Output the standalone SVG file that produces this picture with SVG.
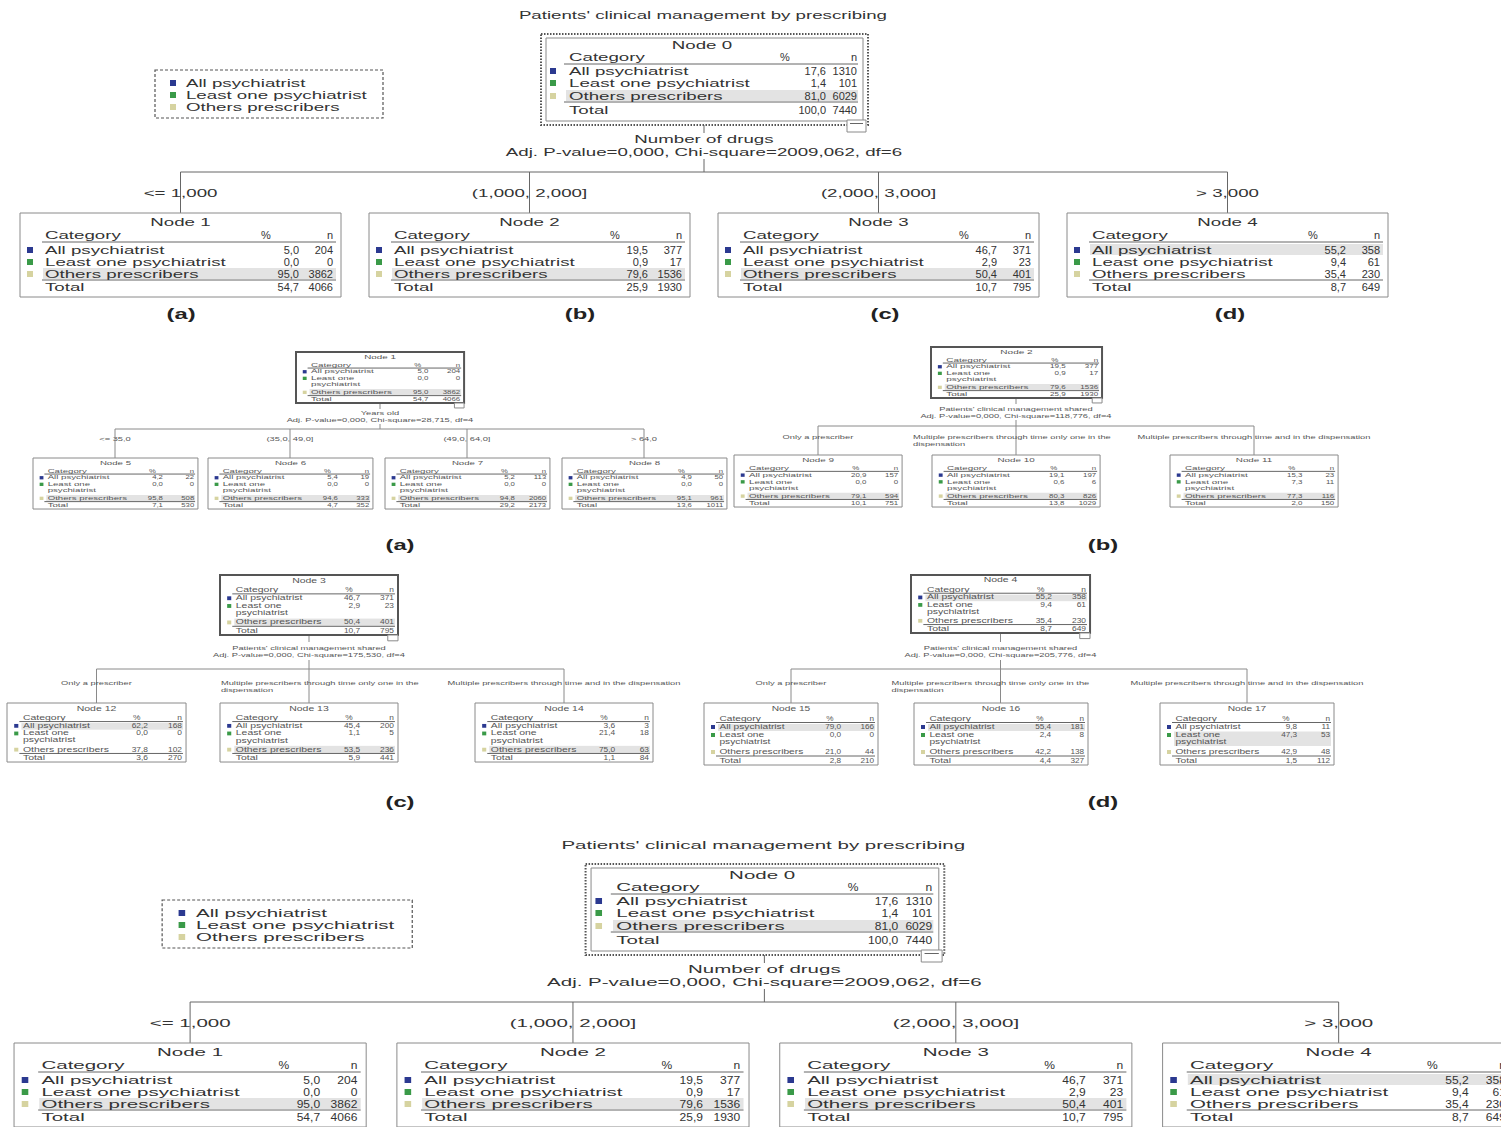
<svg xmlns="http://www.w3.org/2000/svg" width="1501" height="1127" viewBox="0 0 1501 1127">
<style>
.t{font-family:"Liberation Sans",Arial,sans-serif;fill:#333}
.f11{font-size:11px}
.fs{font-size:6.8px;fill:#555}
.fl{font-size:6.2px;fill:#555}
.fb{font-size:14px;font-weight:bold;fill:#222}
.m{text-anchor:middle}
.e{text-anchor:end}
.box{fill:#fff;stroke:#8a8a8a;stroke-width:1;vector-effect:non-scaling-stroke}
.boxp{fill:#fff;stroke:#555;stroke-width:2;vector-effect:non-scaling-stroke}
.dot{fill:none;stroke:#555;stroke-width:2;stroke-dasharray:1.5 1.5;vector-effect:non-scaling-stroke}
.dash{fill:#fff;stroke:#555;stroke-width:1.2;stroke-dasharray:3 2;vector-effect:non-scaling-stroke}
.ln{stroke:#666;stroke-width:1;fill:none;vector-effect:non-scaling-stroke}
.lm{stroke:#8a8a8a;stroke-width:1;fill:none;vector-effect:non-scaling-stroke}
.hl{fill:#e3e3e3}
.c1{fill:#2b3990}.c2{fill:#3a9a48}.c3{fill:#d6d3a0}
</style>
<rect width="1501" height="1127" fill="#fff"/>

<!-- ================= TOP TREE ================= -->
<g id="top-tree">
<g id="top-title"><text class="t f11 m" transform="scale(1.7,1)" x="413.5" y="19">Patients' clinical management by prescribing</text></g>
<g id="top-legend">
<rect class="dash" x="155" y="70" width="228" height="48"/>
<rect class="c1" x="170" y="80" width="6" height="6"/>
<rect class="c2" x="170" y="92" width="6" height="6"/>
<rect class="c3" x="170" y="104" width="6" height="6"/>
<g class="t f11" transform="scale(1.7,1)"><text x="109.4" y="87">All psychiatrist</text><text x="109.4" y="99">Least one psychiatrist</text><text x="109.4" y="111">Others prescribers</text></g>
</g>
<g id="top-connectors">
<path class="ln" d="M704 125V133M704 159V172M180.5 172H1227.5M180.5 172V213M529.5 172V213M878.5 172V213M1227.5 172V213"/>
<g class="t f11" transform="scale(1.7,1)">
<text class="m" x="414.1" y="143">Number of drugs</text>
<text class="m" x="414.1" y="156">Adj. P-value=0,000, Chi-square=2009,062, df=6</text>
<text class="m" x="106.2" y="197">&lt;= 1,000</text>
<text class="m" x="311.5" y="197">(1,000, 2,000]</text>
<text class="m" x="516.8" y="197">(2,000, 3,000]</text>
<text class="m" x="722.1" y="197">&gt; 3,000</text>
</g>
</g>
<g id="top-node0">
<rect class="dot" x="541" y="34" width="327" height="91"/>
<rect class="box" x="546" y="38" width="317" height="83"/>
<rect class="hl" x="566" y="90" width="292" height="11"/>
<line class="ln" x1="564" y1="64" x2="858" y2="64"/>
<line class="ln" x1="564" y1="102" x2="858" y2="102"/>
<rect class="c1" x="550" y="68" width="6" height="6"/>
<rect class="c2" x="550" y="80" width="6" height="6"/>
<rect class="c3" x="550" y="93" width="6" height="6"/>
<rect class="box" x="847" y="120" width="19" height="12"/>
<line class="ln" x1="850" y1="123.5" x2="863" y2="123.5"/>
<g class="t f11" transform="translate(543,0) scale(1.7,1)">
<text class="m" x="93.5" y="49">Node 0</text>
<text x="15.3" y="61">Category</text>
<text x="15.3" y="75">All psychiatrist</text>
<text x="15.3" y="87">Least one psychiatrist</text>
<text x="15.3" y="100">Others prescribers</text>
<text x="15.3" y="114">Total</text>
</g>
<g class="t f11">
<text class="m" x="785" y="61">%</text><text class="e" x="857" y="61">n</text>
<text class="e" x="826" y="75">17,6</text><text class="e" x="857" y="75">1310</text>
<text class="e" x="826" y="87">1,4</text><text class="e" x="857" y="87">101</text>
<text class="e" x="826" y="100">81,0</text><text class="e" x="857" y="100">6029</text>
<text class="e" x="826" y="114">100,0</text><text class="e" x="857" y="114">7440</text>
</g>
</g>
<g id="top-node1">
<rect class="box" x="20" y="213" width="321" height="84"/>
<rect class="hl" x="43" y="268" width="293" height="11"/>
<line class="ln" x1="42" y1="242" x2="336" y2="242"/>
<line class="ln" x1="42" y1="280" x2="336" y2="280"/>
<rect class="c1" x="27" y="247" width="6" height="6"/>
<rect class="c2" x="27" y="259" width="6" height="6"/>
<rect class="c3" x="27" y="271" width="6" height="6"/>
<g class="t f11" transform="translate(20,0) scale(1.7,1)">
<text class="m" x="94.4" y="226">Node 1</text>
<text x="14.7" y="239">Category</text>
<text x="14.7" y="254">All psychiatrist</text>
<text x="14.7" y="266">Least one psychiatrist</text>
<text x="14.7" y="278">Others prescribers</text>
<text x="14.7" y="291">Total</text>
</g>
<g class="t f11">
<text class="m" x="266" y="239">%</text><text class="e" x="333" y="239">n</text>
<text class="e" x="299" y="254">5,0</text><text class="e" x="333" y="254">204</text>
<text class="e" x="299" y="266">0,0</text><text class="e" x="333" y="266">0</text>
<text class="e" x="299" y="278">95,0</text><text class="e" x="333" y="278">3862</text>
<text class="e" x="299" y="291">54,7</text><text class="e" x="333" y="291">4066</text>
</g>
</g>
<g id="top-node2">
<rect class="box" x="369" y="213" width="321" height="84"/>
<rect class="hl" x="392" y="268" width="293" height="11"/>
<line class="ln" x1="391" y1="242" x2="685" y2="242"/>
<line class="ln" x1="391" y1="280" x2="685" y2="280"/>
<rect class="c1" x="376" y="247" width="6" height="6"/>
<rect class="c2" x="376" y="259" width="6" height="6"/>
<rect class="c3" x="376" y="271" width="6" height="6"/>
<g class="t f11" transform="translate(369,0) scale(1.7,1)">
<text class="m" x="94.4" y="226">Node 2</text>
<text x="14.7" y="239">Category</text>
<text x="14.7" y="254">All psychiatrist</text>
<text x="14.7" y="266">Least one psychiatrist</text>
<text x="14.7" y="278">Others prescribers</text>
<text x="14.7" y="291">Total</text>
</g>
<g class="t f11">
<text class="m" x="615" y="239">%</text><text class="e" x="682" y="239">n</text>
<text class="e" x="648" y="254">19,5</text><text class="e" x="682" y="254">377</text>
<text class="e" x="648" y="266">0,9</text><text class="e" x="682" y="266">17</text>
<text class="e" x="648" y="278">79,6</text><text class="e" x="682" y="278">1536</text>
<text class="e" x="648" y="291">25,9</text><text class="e" x="682" y="291">1930</text>
</g>
</g>
<g id="top-node3">
<rect class="box" x="718" y="213" width="321" height="84"/>
<rect class="hl" x="741" y="268" width="293" height="11"/>
<line class="ln" x1="740" y1="242" x2="1034" y2="242"/>
<line class="ln" x1="740" y1="280" x2="1034" y2="280"/>
<rect class="c1" x="725" y="247" width="6" height="6"/>
<rect class="c2" x="725" y="259" width="6" height="6"/>
<rect class="c3" x="725" y="271" width="6" height="6"/>
<g class="t f11" transform="translate(718,0) scale(1.7,1)">
<text class="m" x="94.4" y="226">Node 3</text>
<text x="14.7" y="239">Category</text>
<text x="14.7" y="254">All psychiatrist</text>
<text x="14.7" y="266">Least one psychiatrist</text>
<text x="14.7" y="278">Others prescribers</text>
<text x="14.7" y="291">Total</text>
</g>
<g class="t f11">
<text class="m" x="964" y="239">%</text><text class="e" x="1031" y="239">n</text>
<text class="e" x="997" y="254">46,7</text><text class="e" x="1031" y="254">371</text>
<text class="e" x="997" y="266">2,9</text><text class="e" x="1031" y="266">23</text>
<text class="e" x="997" y="278">50,4</text><text class="e" x="1031" y="278">401</text>
<text class="e" x="997" y="291">10,7</text><text class="e" x="1031" y="291">795</text>
</g>
</g>
<g id="top-node4">
<rect class="box" x="1067" y="213" width="321" height="84"/>
<rect class="hl" x="1090" y="244" width="293" height="11"/>
<line class="ln" x1="1089" y1="242" x2="1383" y2="242"/>
<line class="ln" x1="1089" y1="280" x2="1383" y2="280"/>
<rect class="c1" x="1074" y="247" width="6" height="6"/>
<rect class="c2" x="1074" y="259" width="6" height="6"/>
<rect class="c3" x="1074" y="271" width="6" height="6"/>
<g class="t f11" transform="translate(1067,0) scale(1.7,1)">
<text class="m" x="94.4" y="226">Node 4</text>
<text x="14.7" y="239">Category</text>
<text x="14.7" y="254">All psychiatrist</text>
<text x="14.7" y="266">Least one psychiatrist</text>
<text x="14.7" y="278">Others prescribers</text>
<text x="14.7" y="291">Total</text>
</g>
<g class="t f11">
<text class="m" x="1313" y="239">%</text><text class="e" x="1380" y="239">n</text>
<text class="e" x="1346" y="254">55,2</text><text class="e" x="1380" y="254">358</text>
<text class="e" x="1346" y="266">9,4</text><text class="e" x="1380" y="266">61</text>
<text class="e" x="1346" y="278">35,4</text><text class="e" x="1380" y="278">230</text>
<text class="e" x="1346" y="291">8,7</text><text class="e" x="1380" y="291">649</text>
</g>
</g>
</g>
<g id="panel-labels" class="t fb" transform="scale(1.7,1)">
<text class="m" x="106.5" y="319">(a)</text><text class="m" x="341.2" y="319">(b)</text><text class="m" x="520.6" y="319">(c)</text><text class="m" x="723.5" y="319">(d)</text>
<text class="m" x="235.3" y="550">(a)</text><text class="m" x="648.8" y="550">(b)</text>
<text class="m" x="235.3" y="807">(c)</text><text class="m" x="648.8" y="807">(d)</text>
</g>

<!-- ================= MIDDLE (a) ================= -->
<g id="a-connectors">
<path class="lm" d="M380 403V409M380 424V429M115 429H644M115 429V458M290 429V458M467 429V458M644 429V458"/>
<g class="t fl" transform="scale(1.5,1)">
<text class="m" x="253.3" y="415">Years old</text>
<text class="m" x="253.3" y="422.5">Adj. P-value=0,000, Chi-square=28,715, df=4</text>
<text class="m" x="76.7" y="441.5">&lt;= 35,0</text>
<text class="m" x="193.3" y="441.5">(35,0, 49,0]</text>
<text class="m" x="311.3" y="441.5">(49,0, 64,0]</text>
<text class="m" x="429.3" y="441.5">&gt; 64,0</text>
</g>
</g>
<g id="a-node1" transform="translate(296,352) scale(0.966,0.823)">
<rect class="boxp" width="174" height="62"/>
<rect class="hl" x="14" y="45" width="157" height="7.5"/>
<line class="ln" x1="12" y1="19.5" x2="171" y2="19.5"/><line class="ln" x1="12" y1="53" x2="171" y2="53"/>
<rect class="c1" x="7" y="22" width="4" height="4"/><rect class="c2" x="7" y="30" width="4" height="4"/><rect class="c3" x="7" y="47" width="4" height="4"/>
<rect class="box" x="164" y="62" width="10" height="6"/>
<g class="t fs" transform="scale(1.5,1)"><text class="m" x="58" y="8">Node 1</text><text x="10.3" y="18">Category</text><text x="10.3" y="26">All psychiatrist</text><text x="10.3" y="34">Least one</text><text x="10.3" y="41.5">psychiatrist</text><text x="10.3" y="51">Others prescribers</text><text x="10.3" y="60">Total</text></g>
<g class="t fs" transform="scale(1.2,1)"><text class="m" x="105" y="18">%</text><text class="e" x="141.7" y="18">n</text>
<text class="e" x="114.2" y="26">5,0</text><text class="e" x="141.7" y="26">204</text>
<text class="e" x="114.2" y="34">0,0</text><text class="e" x="141.7" y="34">0</text>
<text class="e" x="114.2" y="51">95,0</text><text class="e" x="141.7" y="51">3862</text>
<text class="e" x="114.2" y="60">54,7</text><text class="e" x="141.7" y="60">4066</text></g>
</g>
<g id="a-node5" transform="translate(33,458) scale(0.948,0.823)">
<rect class="box" width="174" height="62"/>
<rect class="hl" x="14" y="45" width="157" height="7.5"/>
<line class="ln" x1="12" y1="19.5" x2="171" y2="19.5"/><line class="ln" x1="12" y1="53" x2="171" y2="53"/>
<rect class="c1" x="7" y="22" width="4" height="4"/><rect class="c2" x="7" y="30" width="4" height="4"/><rect class="c3" x="7" y="47" width="4" height="4"/>
<g class="t fs" transform="scale(1.5,1)"><text class="m" x="58" y="8">Node 5</text><text x="10.3" y="18">Category</text><text x="10.3" y="26">All psychiatrist</text><text x="10.3" y="34">Least one</text><text x="10.3" y="41.5">psychiatrist</text><text x="10.3" y="51">Others prescribers</text><text x="10.3" y="60">Total</text></g>
<g class="t fs" transform="scale(1.2,1)"><text class="m" x="105" y="18">%</text><text class="e" x="141.7" y="18">n</text>
<text class="e" x="114.2" y="26">4,2</text><text class="e" x="141.7" y="26">22</text>
<text class="e" x="114.2" y="34">0,0</text><text class="e" x="141.7" y="34">0</text>
<text class="e" x="114.2" y="51">95,8</text><text class="e" x="141.7" y="51">508</text>
<text class="e" x="114.2" y="60">7,1</text><text class="e" x="141.7" y="60">530</text></g>
</g>
<g id="a-node6" transform="translate(208,458) scale(0.948,0.823)">
<rect class="box" width="174" height="62"/>
<rect class="hl" x="14" y="45" width="157" height="7.5"/>
<line class="ln" x1="12" y1="19.5" x2="171" y2="19.5"/><line class="ln" x1="12" y1="53" x2="171" y2="53"/>
<rect class="c1" x="7" y="22" width="4" height="4"/><rect class="c2" x="7" y="30" width="4" height="4"/><rect class="c3" x="7" y="47" width="4" height="4"/>
<g class="t fs" transform="scale(1.5,1)"><text class="m" x="58" y="8">Node 6</text><text x="10.3" y="18">Category</text><text x="10.3" y="26">All psychiatrist</text><text x="10.3" y="34">Least one</text><text x="10.3" y="41.5">psychiatrist</text><text x="10.3" y="51">Others prescribers</text><text x="10.3" y="60">Total</text></g>
<g class="t fs" transform="scale(1.2,1)"><text class="m" x="105" y="18">%</text><text class="e" x="141.7" y="18">n</text>
<text class="e" x="114.2" y="26">5,4</text><text class="e" x="141.7" y="26">19</text>
<text class="e" x="114.2" y="34">0,0</text><text class="e" x="141.7" y="34">0</text>
<text class="e" x="114.2" y="51">94,6</text><text class="e" x="141.7" y="51">333</text>
<text class="e" x="114.2" y="60">4,7</text><text class="e" x="141.7" y="60">352</text></g>
</g>
<g id="a-node7" transform="translate(385,458) scale(0.948,0.823)">
<rect class="box" width="174" height="62"/>
<rect class="hl" x="14" y="45" width="157" height="7.5"/>
<line class="ln" x1="12" y1="19.5" x2="171" y2="19.5"/><line class="ln" x1="12" y1="53" x2="171" y2="53"/>
<rect class="c1" x="7" y="22" width="4" height="4"/><rect class="c2" x="7" y="30" width="4" height="4"/><rect class="c3" x="7" y="47" width="4" height="4"/>
<g class="t fs" transform="scale(1.5,1)"><text class="m" x="58" y="8">Node 7</text><text x="10.3" y="18">Category</text><text x="10.3" y="26">All psychiatrist</text><text x="10.3" y="34">Least one</text><text x="10.3" y="41.5">psychiatrist</text><text x="10.3" y="51">Others prescribers</text><text x="10.3" y="60">Total</text></g>
<g class="t fs" transform="scale(1.2,1)"><text class="m" x="105" y="18">%</text><text class="e" x="141.7" y="18">n</text>
<text class="e" x="114.2" y="26">5,2</text><text class="e" x="141.7" y="26">113</text>
<text class="e" x="114.2" y="34">0,0</text><text class="e" x="141.7" y="34">0</text>
<text class="e" x="114.2" y="51">94,8</text><text class="e" x="141.7" y="51">2060</text>
<text class="e" x="114.2" y="60">29,2</text><text class="e" x="141.7" y="60">2173</text></g>
</g>
<g id="a-node8" transform="translate(562,458) scale(0.948,0.823)">
<rect class="box" width="174" height="62"/>
<rect class="hl" x="14" y="45" width="157" height="7.5"/>
<line class="ln" x1="12" y1="19.5" x2="171" y2="19.5"/><line class="ln" x1="12" y1="53" x2="171" y2="53"/>
<rect class="c1" x="7" y="22" width="4" height="4"/><rect class="c2" x="7" y="30" width="4" height="4"/><rect class="c3" x="7" y="47" width="4" height="4"/>
<g class="t fs" transform="scale(1.5,1)"><text class="m" x="58" y="8">Node 8</text><text x="10.3" y="18">Category</text><text x="10.3" y="26">All psychiatrist</text><text x="10.3" y="34">Least one</text><text x="10.3" y="41.5">psychiatrist</text><text x="10.3" y="51">Others prescribers</text><text x="10.3" y="60">Total</text></g>
<g class="t fs" transform="scale(1.2,1)"><text class="m" x="105" y="18">%</text><text class="e" x="141.7" y="18">n</text>
<text class="e" x="114.2" y="26">4,9</text><text class="e" x="141.7" y="26">50</text>
<text class="e" x="114.2" y="34">0,0</text><text class="e" x="141.7" y="34">0</text>
<text class="e" x="114.2" y="51">95,1</text><text class="e" x="141.7" y="51">961</text>
<text class="e" x="114.2" y="60">13,6</text><text class="e" x="141.7" y="60">1011</text></g>
</g>

<!-- ================= MIDDLE (b) ================= -->
<g id="b-connectors">
<path class="lm" d="M1016 398V404M1016 420V426M818 426H1254M818 426V455M1016 426V455M1254 426V455"/>
<g class="t fl" transform="scale(1.5,1)">
<text class="m" x="677.3" y="411">Patients' clinical management shared</text>
<text class="m" x="677.3" y="418.5">Adj. P-value=0,000, Chi-square=118,776, df=4</text>
<text class="m" x="545.3" y="439">Only a prescriber</text>
<text x="608.7" y="439">Multiple prescribers through time only one in the</text>
<text x="608.7" y="446">dispensation</text>
<text class="m" x="836" y="439">Multiple prescribers through time and in the dispensation</text>
</g>
</g>
<g id="b-node2" transform="translate(931,347) scale(0.983,0.823)">
<rect class="boxp" width="174" height="62"/>
<rect class="hl" x="14" y="45" width="157" height="7.5"/>
<line class="ln" x1="12" y1="19.5" x2="171" y2="19.5"/><line class="ln" x1="12" y1="53" x2="171" y2="53"/>
<rect class="c1" x="7" y="22" width="4" height="4"/><rect class="c2" x="7" y="30" width="4" height="4"/><rect class="c3" x="7" y="47" width="4" height="4"/>
<rect class="box" x="164" y="62" width="10" height="6"/>
<g class="t fs" transform="scale(1.5,1)"><text class="m" x="58" y="8">Node 2</text><text x="10.3" y="18">Category</text><text x="10.3" y="26">All psychiatrist</text><text x="10.3" y="34">Least one</text><text x="10.3" y="41.5">psychiatrist</text><text x="10.3" y="51">Others prescribers</text><text x="10.3" y="60">Total</text></g>
<g class="t fs" transform="scale(1.2,1)"><text class="m" x="105" y="18">%</text><text class="e" x="141.7" y="18">n</text>
<text class="e" x="114.2" y="26">19,5</text><text class="e" x="141.7" y="26">377</text>
<text class="e" x="114.2" y="34">0,9</text><text class="e" x="141.7" y="34">17</text>
<text class="e" x="114.2" y="51">79,6</text><text class="e" x="141.7" y="51">1536</text>
<text class="e" x="114.2" y="60">25,9</text><text class="e" x="141.7" y="60">1930</text></g>
</g>
<g id="b-node9" transform="translate(734,455) scale(0.966,0.839)">
<rect class="box" width="174" height="62"/>
<rect class="hl" x="14" y="45" width="157" height="7.5"/>
<line class="ln" x1="12" y1="19.5" x2="171" y2="19.5"/><line class="ln" x1="12" y1="53" x2="171" y2="53"/>
<rect class="c1" x="7" y="22" width="4" height="4"/><rect class="c2" x="7" y="30" width="4" height="4"/><rect class="c3" x="7" y="47" width="4" height="4"/>
<g class="t fs" transform="scale(1.5,1)"><text class="m" x="58" y="8">Node 9</text><text x="10.3" y="18">Category</text><text x="10.3" y="26">All psychiatrist</text><text x="10.3" y="34">Least one</text><text x="10.3" y="41.5">psychiatrist</text><text x="10.3" y="51">Others prescribers</text><text x="10.3" y="60">Total</text></g>
<g class="t fs" transform="scale(1.2,1)"><text class="m" x="105" y="18">%</text><text class="e" x="141.7" y="18">n</text>
<text class="e" x="114.2" y="26">20,9</text><text class="e" x="141.7" y="26">157</text>
<text class="e" x="114.2" y="34">0,0</text><text class="e" x="141.7" y="34">0</text>
<text class="e" x="114.2" y="51">79,1</text><text class="e" x="141.7" y="51">594</text>
<text class="e" x="114.2" y="60">10,1</text><text class="e" x="141.7" y="60">751</text></g>
</g>
<g id="b-node10" transform="translate(932,455) scale(0.966,0.839)">
<rect class="box" width="174" height="62"/>
<rect class="hl" x="14" y="45" width="157" height="7.5"/>
<line class="ln" x1="12" y1="19.5" x2="171" y2="19.5"/><line class="ln" x1="12" y1="53" x2="171" y2="53"/>
<rect class="c1" x="7" y="22" width="4" height="4"/><rect class="c2" x="7" y="30" width="4" height="4"/><rect class="c3" x="7" y="47" width="4" height="4"/>
<g class="t fs" transform="scale(1.5,1)"><text class="m" x="58" y="8">Node 10</text><text x="10.3" y="18">Category</text><text x="10.3" y="26">All psychiatrist</text><text x="10.3" y="34">Least one</text><text x="10.3" y="41.5">psychiatrist</text><text x="10.3" y="51">Others prescribers</text><text x="10.3" y="60">Total</text></g>
<g class="t fs" transform="scale(1.2,1)"><text class="m" x="105" y="18">%</text><text class="e" x="141.7" y="18">n</text>
<text class="e" x="114.2" y="26">19,1</text><text class="e" x="141.7" y="26">197</text>
<text class="e" x="114.2" y="34">0,6</text><text class="e" x="141.7" y="34">6</text>
<text class="e" x="114.2" y="51">80,3</text><text class="e" x="141.7" y="51">826</text>
<text class="e" x="114.2" y="60">13,8</text><text class="e" x="141.7" y="60">1029</text></g>
</g>
<g id="b-node11" transform="translate(1170,455) scale(0.966,0.839)">
<rect class="box" width="174" height="62"/>
<rect class="hl" x="14" y="45" width="157" height="7.5"/>
<line class="ln" x1="12" y1="19.5" x2="171" y2="19.5"/><line class="ln" x1="12" y1="53" x2="171" y2="53"/>
<rect class="c1" x="7" y="22" width="4" height="4"/><rect class="c2" x="7" y="30" width="4" height="4"/><rect class="c3" x="7" y="47" width="4" height="4"/>
<g class="t fs" transform="scale(1.5,1)"><text class="m" x="58" y="8">Node 11</text><text x="10.3" y="18">Category</text><text x="10.3" y="26">All psychiatrist</text><text x="10.3" y="34">Least one</text><text x="10.3" y="41.5">psychiatrist</text><text x="10.3" y="51">Others prescribers</text><text x="10.3" y="60">Total</text></g>
<g class="t fs" transform="scale(1.2,1)"><text class="m" x="105" y="18">%</text><text class="e" x="141.7" y="18">n</text>
<text class="e" x="114.2" y="26">15,3</text><text class="e" x="141.7" y="26">23</text>
<text class="e" x="114.2" y="34">7,3</text><text class="e" x="141.7" y="34">11</text>
<text class="e" x="114.2" y="51">77,3</text><text class="e" x="141.7" y="51">116</text>
<text class="e" x="114.2" y="60">2,0</text><text class="e" x="141.7" y="60">150</text></g>
</g>

<!-- ================= MIDDLE (c) ================= -->
<g id="c-connectors">
<path class="lm" d="M309 635V642M309 660V669M96.5 669H564M96.5 669V703M309 669V703M564 669V703"/>
<g class="t fl" transform="scale(1.5,1)">
<text class="m" x="206" y="650">Patients' clinical management shared</text>
<text class="m" x="206" y="657">Adj. P-value=0,000, Chi-square=175,530, df=4</text>
<text class="m" x="64.3" y="685">Only a prescriber</text>
<text x="147.3" y="685">Multiple prescribers through time only one in the</text>
<text x="147.3" y="692">dispensation</text>
<text class="m" x="376" y="685">Multiple prescribers through time and in the dispensation</text>
</g>
</g>
<g id="c-node3" transform="translate(220,575) scale(1.023,0.968)">
<rect class="boxp" width="174" height="62"/>
<rect class="hl" x="14" y="45" width="157" height="7.5"/>
<line class="ln" x1="12" y1="19.5" x2="171" y2="19.5"/><line class="ln" x1="12" y1="53" x2="171" y2="53"/>
<rect class="c1" x="7" y="22" width="4" height="4"/><rect class="c2" x="7" y="30" width="4" height="4"/><rect class="c3" x="7" y="47" width="4" height="4"/>
<rect class="box" x="164" y="62" width="10" height="6"/>
<g class="t fs" transform="scale(1.5,1)"><text class="m" x="58" y="8">Node 3</text><text x="10.3" y="18">Category</text><text x="10.3" y="26">All psychiatrist</text><text x="10.3" y="34">Least one</text><text x="10.3" y="41.5">psychiatrist</text><text x="10.3" y="51">Others prescribers</text><text x="10.3" y="60">Total</text></g>
<g class="t fs" transform="scale(1.2,1)"><text class="m" x="105" y="18">%</text><text class="e" x="141.7" y="18">n</text>
<text class="e" x="114.2" y="26">46,7</text><text class="e" x="141.7" y="26">371</text>
<text class="e" x="114.2" y="34">2,9</text><text class="e" x="141.7" y="34">23</text>
<text class="e" x="114.2" y="51">50,4</text><text class="e" x="141.7" y="51">401</text>
<text class="e" x="114.2" y="60">10,7</text><text class="e" x="141.7" y="60">795</text></g>
</g>
<g id="c-node12" transform="translate(7,703) scale(1.029,0.952)">
<rect class="box" width="174" height="62"/>
<rect class="hl" x="14" y="21" width="157" height="7"/>
<line class="ln" x1="12" y1="19.5" x2="171" y2="19.5"/><line class="ln" x1="12" y1="53" x2="171" y2="53"/>
<rect class="c1" x="7" y="22" width="4" height="4"/><rect class="c2" x="7" y="30" width="4" height="4"/><rect class="c3" x="7" y="47" width="4" height="4"/>
<g class="t fs" transform="scale(1.5,1)"><text class="m" x="58" y="8">Node 12</text><text x="10.3" y="18">Category</text><text x="10.3" y="26">All psychiatrist</text><text x="10.3" y="34">Least one</text><text x="10.3" y="41.5">psychiatrist</text><text x="10.3" y="51">Others prescribers</text><text x="10.3" y="60">Total</text></g>
<g class="t fs" transform="scale(1.2,1)"><text class="m" x="105" y="18">%</text><text class="e" x="141.7" y="18">n</text>
<text class="e" x="114.2" y="26">62,2</text><text class="e" x="141.7" y="26">168</text>
<text class="e" x="114.2" y="34">0,0</text><text class="e" x="141.7" y="34">0</text>
<text class="e" x="114.2" y="51">37,8</text><text class="e" x="141.7" y="51">102</text>
<text class="e" x="114.2" y="60">3,6</text><text class="e" x="141.7" y="60">270</text></g>
</g>
<g id="c-node13" transform="translate(220,703) scale(1.023,0.952)">
<rect class="box" width="174" height="62"/>
<rect class="hl" x="14" y="45" width="157" height="7.5"/>
<line class="ln" x1="12" y1="19.5" x2="171" y2="19.5"/><line class="ln" x1="12" y1="53" x2="171" y2="53"/>
<rect class="c1" x="7" y="22" width="4" height="4"/><rect class="c2" x="7" y="30" width="4" height="4"/><rect class="c3" x="7" y="47" width="4" height="4"/>
<g class="t fs" transform="scale(1.5,1)"><text class="m" x="58" y="8">Node 13</text><text x="10.3" y="18">Category</text><text x="10.3" y="26">All psychiatrist</text><text x="10.3" y="34">Least one</text><text x="10.3" y="41.5">psychiatrist</text><text x="10.3" y="51">Others prescribers</text><text x="10.3" y="60">Total</text></g>
<g class="t fs" transform="scale(1.2,1)"><text class="m" x="105" y="18">%</text><text class="e" x="141.7" y="18">n</text>
<text class="e" x="114.2" y="26">45,4</text><text class="e" x="141.7" y="26">200</text>
<text class="e" x="114.2" y="34">1,1</text><text class="e" x="141.7" y="34">5</text>
<text class="e" x="114.2" y="51">53,5</text><text class="e" x="141.7" y="51">236</text>
<text class="e" x="114.2" y="60">5,9</text><text class="e" x="141.7" y="60">441</text></g>
</g>
<g id="c-node14" transform="translate(475,703) scale(1.023,0.952)">
<rect class="box" width="174" height="62"/>
<rect class="hl" x="14" y="45" width="157" height="7.5"/>
<line class="ln" x1="12" y1="19.5" x2="171" y2="19.5"/><line class="ln" x1="12" y1="53" x2="171" y2="53"/>
<rect class="c1" x="7" y="22" width="4" height="4"/><rect class="c2" x="7" y="30" width="4" height="4"/><rect class="c3" x="7" y="47" width="4" height="4"/>
<g class="t fs" transform="scale(1.5,1)"><text class="m" x="58" y="8">Node 14</text><text x="10.3" y="18">Category</text><text x="10.3" y="26">All psychiatrist</text><text x="10.3" y="34">Least one</text><text x="10.3" y="41.5">psychiatrist</text><text x="10.3" y="51">Others prescribers</text><text x="10.3" y="60">Total</text></g>
<g class="t fs" transform="scale(1.2,1)"><text class="m" x="105" y="18">%</text><text class="e" x="141.7" y="18">n</text>
<text class="e" x="114.2" y="26">3,6</text><text class="e" x="141.7" y="26">3</text>
<text class="e" x="114.2" y="34">21,4</text><text class="e" x="141.7" y="34">18</text>
<text class="e" x="114.2" y="51">75,0</text><text class="e" x="141.7" y="51">63</text>
<text class="e" x="114.2" y="60">1,1</text><text class="e" x="141.7" y="60">84</text></g>
</g>

<!-- ================= MIDDLE (d) ================= -->
<g id="d-connectors">
<path class="lm" d="M1000.5 633V642M1000.5 660V669M791 669H1247M791 669V703M1000.5 669V703M1247 669V703"/>
<g class="t fl" transform="scale(1.5,1)">
<text class="m" x="667" y="650">Patients' clinical management shared</text>
<text class="m" x="667" y="657">Adj. P-value=0,000, Chi-square=205,776, df=4</text>
<text class="m" x="527.3" y="685">Only a prescriber</text>
<text x="594.4" y="685">Multiple prescribers through time only one in the</text>
<text x="594.4" y="692">dispensation</text>
<text class="m" x="831.3" y="685">Multiple prescribers through time and in the dispensation</text>
</g>
</g>
<g id="d-node4" transform="translate(911,575) scale(1.029,0.935)">
<rect class="boxp" width="174" height="62"/>
<rect class="hl" x="14" y="21" width="157" height="7"/>
<line class="ln" x1="12" y1="19.5" x2="171" y2="19.5"/><line class="ln" x1="12" y1="53" x2="171" y2="53"/>
<rect class="c1" x="7" y="22" width="4" height="4"/><rect class="c2" x="7" y="30" width="4" height="4"/><rect class="c3" x="7" y="47" width="4" height="4"/>
<rect class="box" x="164" y="62" width="10" height="6"/>
<g class="t fs" transform="scale(1.5,1)"><text class="m" x="58" y="8">Node 4</text><text x="10.3" y="18">Category</text><text x="10.3" y="26">All psychiatrist</text><text x="10.3" y="34">Least one</text><text x="10.3" y="41.5">psychiatrist</text><text x="10.3" y="51">Others prescribers</text><text x="10.3" y="60">Total</text></g>
<g class="t fs" transform="scale(1.2,1)"><text class="m" x="105" y="18">%</text><text class="e" x="141.7" y="18">n</text>
<text class="e" x="114.2" y="26">55,2</text><text class="e" x="141.7" y="26">358</text>
<text class="e" x="114.2" y="34">9,4</text><text class="e" x="141.7" y="34">61</text>
<text class="e" x="114.2" y="51">35,4</text><text class="e" x="141.7" y="51">230</text>
<text class="e" x="114.2" y="60">8,7</text><text class="e" x="141.7" y="60">649</text></g>
</g>
<g id="d-node15" transform="translate(704,703)">
<rect class="box" width="174" height="62"/>
<rect class="hl" x="14" y="21" width="157" height="7"/>
<line class="ln" x1="12" y1="19.5" x2="171" y2="19.5"/><line class="ln" x1="12" y1="53" x2="171" y2="53"/>
<rect class="c1" x="7" y="22" width="4" height="4"/><rect class="c2" x="7" y="30" width="4" height="4"/><rect class="c3" x="7" y="47" width="4" height="4"/>
<g class="t fs" transform="scale(1.5,1)"><text class="m" x="58" y="8">Node 15</text><text x="10.3" y="18">Category</text><text x="10.3" y="26">All psychiatrist</text><text x="10.3" y="34">Least one</text><text x="10.3" y="41.5">psychiatrist</text><text x="10.3" y="51">Others prescribers</text><text x="10.3" y="60">Total</text></g>
<g class="t fs" transform="scale(1.2,1)"><text class="m" x="105" y="18">%</text><text class="e" x="141.7" y="18">n</text>
<text class="e" x="114.2" y="26">79,0</text><text class="e" x="141.7" y="26">166</text>
<text class="e" x="114.2" y="34">0,0</text><text class="e" x="141.7" y="34">0</text>
<text class="e" x="114.2" y="51">21,0</text><text class="e" x="141.7" y="51">44</text>
<text class="e" x="114.2" y="60">2,8</text><text class="e" x="141.7" y="60">210</text></g>
</g>
<g id="d-node16" transform="translate(914,703)">
<rect class="box" width="174" height="62"/>
<rect class="hl" x="14" y="21" width="157" height="7"/>
<line class="ln" x1="12" y1="19.5" x2="171" y2="19.5"/><line class="ln" x1="12" y1="53" x2="171" y2="53"/>
<rect class="c1" x="7" y="22" width="4" height="4"/><rect class="c2" x="7" y="30" width="4" height="4"/><rect class="c3" x="7" y="47" width="4" height="4"/>
<g class="t fs" transform="scale(1.5,1)"><text class="m" x="58" y="8">Node 16</text><text x="10.3" y="18">Category</text><text x="10.3" y="26">All psychiatrist</text><text x="10.3" y="34">Least one</text><text x="10.3" y="41.5">psychiatrist</text><text x="10.3" y="51">Others prescribers</text><text x="10.3" y="60">Total</text></g>
<g class="t fs" transform="scale(1.2,1)"><text class="m" x="105" y="18">%</text><text class="e" x="141.7" y="18">n</text>
<text class="e" x="114.2" y="26">55,4</text><text class="e" x="141.7" y="26">181</text>
<text class="e" x="114.2" y="34">2,4</text><text class="e" x="141.7" y="34">8</text>
<text class="e" x="114.2" y="51">42,2</text><text class="e" x="141.7" y="51">138</text>
<text class="e" x="114.2" y="60">4,4</text><text class="e" x="141.7" y="60">327</text></g>
</g>
<g id="d-node17" transform="translate(1160,703)">
<rect class="box" width="174" height="62"/>
<rect class="hl" x="14" y="28.5" width="157" height="14.5"/>
<line class="ln" x1="12" y1="19.5" x2="171" y2="19.5"/><line class="ln" x1="12" y1="53" x2="171" y2="53"/>
<rect class="c1" x="7" y="22" width="4" height="4"/><rect class="c2" x="7" y="30" width="4" height="4"/><rect class="c3" x="7" y="47" width="4" height="4"/>
<g class="t fs" transform="scale(1.5,1)"><text class="m" x="58" y="8">Node 17</text><text x="10.3" y="18">Category</text><text x="10.3" y="26">All psychiatrist</text><text x="10.3" y="34">Least one</text><text x="10.3" y="41.5">psychiatrist</text><text x="10.3" y="51">Others prescribers</text><text x="10.3" y="60">Total</text></g>
<g class="t fs" transform="scale(1.2,1)"><text class="m" x="105" y="18">%</text><text class="e" x="141.7" y="18">n</text>
<text class="e" x="114.2" y="26">9,8</text><text class="e" x="141.7" y="26">11</text>
<text class="e" x="114.2" y="34">47,3</text><text class="e" x="141.7" y="34">53</text>
<text class="e" x="114.2" y="51">42,9</text><text class="e" x="141.7" y="51">48</text>
<text class="e" x="114.2" y="60">1,5</text><text class="e" x="141.7" y="60">112</text></g>
</g>

<!-- ================= BOTTOM TREE ================= -->
<g id="bottom-tree" transform="matrix(1.097,0,0,1,-7.9,830)">
<g id="bt-title"><text class="t f11 m" transform="scale(1.7,1)" x="413.5" y="19">Patients' clinical management by prescribing</text></g>
<g id="bt-legend">
<rect class="dash" x="155" y="70" width="228" height="48"/>
<rect class="c1" x="170" y="80" width="6" height="6"/>
<rect class="c2" x="170" y="92" width="6" height="6"/>
<rect class="c3" x="170" y="104" width="6" height="6"/>
<g class="t f11" transform="scale(1.7,1)"><text x="109.4" y="87">All psychiatrist</text><text x="109.4" y="99">Least one psychiatrist</text><text x="109.4" y="111">Others prescribers</text></g>
</g>
<g id="bt-connectors">
<path class="ln" d="M704 125V133M704 159V172M180.5 172H1227.5M180.5 172V213M529.5 172V213M878.5 172V213M1227.5 172V213"/>
<g class="t f11" transform="scale(1.7,1)">
<text class="m" x="414.1" y="143">Number of drugs</text>
<text class="m" x="414.1" y="156">Adj. P-value=0,000, Chi-square=2009,062, df=6</text>
<text class="m" x="106.2" y="197">&lt;= 1,000</text>
<text class="m" x="311.5" y="197">(1,000, 2,000]</text>
<text class="m" x="516.8" y="197">(2,000, 3,000]</text>
<text class="m" x="722.1" y="197">&gt; 3,000</text>
</g>
</g>
<g id="bt-node0">
<rect class="dot" x="541" y="34" width="327" height="91"/>
<rect class="box" x="546" y="38" width="317" height="83"/>
<rect class="hl" x="566" y="90" width="292" height="11"/>
<line class="ln" x1="564" y1="64" x2="858" y2="64"/>
<line class="ln" x1="564" y1="102" x2="858" y2="102"/>
<rect class="c1" x="550" y="68" width="6" height="6"/>
<rect class="c2" x="550" y="80" width="6" height="6"/>
<rect class="c3" x="550" y="93" width="6" height="6"/>
<rect class="box" x="847" y="120" width="19" height="12"/>
<line class="ln" x1="850" y1="123.5" x2="863" y2="123.5"/>
<g class="t f11" transform="translate(543,0) scale(1.7,1)">
<text class="m" x="93.5" y="49">Node 0</text>
<text x="15.3" y="61">Category</text>
<text x="15.3" y="75">All psychiatrist</text>
<text x="15.3" y="87">Least one psychiatrist</text>
<text x="15.3" y="100">Others prescribers</text>
<text x="15.3" y="114">Total</text>
</g>
<g class="t f11">
<text class="m" x="785" y="61">%</text><text class="e" x="857" y="61">n</text>
<text class="e" x="826" y="75">17,6</text><text class="e" x="857" y="75">1310</text>
<text class="e" x="826" y="87">1,4</text><text class="e" x="857" y="87">101</text>
<text class="e" x="826" y="100">81,0</text><text class="e" x="857" y="100">6029</text>
<text class="e" x="826" y="114">100,0</text><text class="e" x="857" y="114">7440</text>
</g>
</g>
<g id="bt-node1">
<rect class="box" x="20" y="213" width="321" height="84"/>
<rect class="hl" x="43" y="268" width="293" height="11"/>
<line class="ln" x1="42" y1="242" x2="336" y2="242"/>
<line class="ln" x1="42" y1="280" x2="336" y2="280"/>
<rect class="c1" x="27" y="247" width="6" height="6"/>
<rect class="c2" x="27" y="259" width="6" height="6"/>
<rect class="c3" x="27" y="271" width="6" height="6"/>
<g class="t f11" transform="translate(20,0) scale(1.7,1)">
<text class="m" x="94.4" y="226">Node 1</text>
<text x="14.7" y="239">Category</text>
<text x="14.7" y="254">All psychiatrist</text>
<text x="14.7" y="266">Least one psychiatrist</text>
<text x="14.7" y="278">Others prescribers</text>
<text x="14.7" y="291">Total</text>
</g>
<g class="t f11">
<text class="m" x="266" y="239">%</text><text class="e" x="333" y="239">n</text>
<text class="e" x="299" y="254">5,0</text><text class="e" x="333" y="254">204</text>
<text class="e" x="299" y="266">0,0</text><text class="e" x="333" y="266">0</text>
<text class="e" x="299" y="278">95,0</text><text class="e" x="333" y="278">3862</text>
<text class="e" x="299" y="291">54,7</text><text class="e" x="333" y="291">4066</text>
</g>
</g>
<g id="bt-node2">
<rect class="box" x="369" y="213" width="321" height="84"/>
<rect class="hl" x="392" y="268" width="293" height="11"/>
<line class="ln" x1="391" y1="242" x2="685" y2="242"/>
<line class="ln" x1="391" y1="280" x2="685" y2="280"/>
<rect class="c1" x="376" y="247" width="6" height="6"/>
<rect class="c2" x="376" y="259" width="6" height="6"/>
<rect class="c3" x="376" y="271" width="6" height="6"/>
<g class="t f11" transform="translate(369,0) scale(1.7,1)">
<text class="m" x="94.4" y="226">Node 2</text>
<text x="14.7" y="239">Category</text>
<text x="14.7" y="254">All psychiatrist</text>
<text x="14.7" y="266">Least one psychiatrist</text>
<text x="14.7" y="278">Others prescribers</text>
<text x="14.7" y="291">Total</text>
</g>
<g class="t f11">
<text class="m" x="615" y="239">%</text><text class="e" x="682" y="239">n</text>
<text class="e" x="648" y="254">19,5</text><text class="e" x="682" y="254">377</text>
<text class="e" x="648" y="266">0,9</text><text class="e" x="682" y="266">17</text>
<text class="e" x="648" y="278">79,6</text><text class="e" x="682" y="278">1536</text>
<text class="e" x="648" y="291">25,9</text><text class="e" x="682" y="291">1930</text>
</g>
</g>
<g id="bt-node3">
<rect class="box" x="718" y="213" width="321" height="84"/>
<rect class="hl" x="741" y="268" width="293" height="11"/>
<line class="ln" x1="740" y1="242" x2="1034" y2="242"/>
<line class="ln" x1="740" y1="280" x2="1034" y2="280"/>
<rect class="c1" x="725" y="247" width="6" height="6"/>
<rect class="c2" x="725" y="259" width="6" height="6"/>
<rect class="c3" x="725" y="271" width="6" height="6"/>
<g class="t f11" transform="translate(718,0) scale(1.7,1)">
<text class="m" x="94.4" y="226">Node 3</text>
<text x="14.7" y="239">Category</text>
<text x="14.7" y="254">All psychiatrist</text>
<text x="14.7" y="266">Least one psychiatrist</text>
<text x="14.7" y="278">Others prescribers</text>
<text x="14.7" y="291">Total</text>
</g>
<g class="t f11">
<text class="m" x="964" y="239">%</text><text class="e" x="1031" y="239">n</text>
<text class="e" x="997" y="254">46,7</text><text class="e" x="1031" y="254">371</text>
<text class="e" x="997" y="266">2,9</text><text class="e" x="1031" y="266">23</text>
<text class="e" x="997" y="278">50,4</text><text class="e" x="1031" y="278">401</text>
<text class="e" x="997" y="291">10,7</text><text class="e" x="1031" y="291">795</text>
</g>
</g>
<g id="bt-node4">
<rect class="box" x="1067" y="213" width="321" height="84"/>
<rect class="hl" x="1090" y="244" width="293" height="11"/>
<line class="ln" x1="1089" y1="242" x2="1383" y2="242"/>
<line class="ln" x1="1089" y1="280" x2="1383" y2="280"/>
<rect class="c1" x="1074" y="247" width="6" height="6"/>
<rect class="c2" x="1074" y="259" width="6" height="6"/>
<rect class="c3" x="1074" y="271" width="6" height="6"/>
<g class="t f11" transform="translate(1067,0) scale(1.7,1)">
<text class="m" x="94.4" y="226">Node 4</text>
<text x="14.7" y="239">Category</text>
<text x="14.7" y="254">All psychiatrist</text>
<text x="14.7" y="266">Least one psychiatrist</text>
<text x="14.7" y="278">Others prescribers</text>
<text x="14.7" y="291">Total</text>
</g>
<g class="t f11">
<text class="m" x="1313" y="239">%</text><text class="e" x="1380" y="239">n</text>
<text class="e" x="1346" y="254">55,2</text><text class="e" x="1380" y="254">358</text>
<text class="e" x="1346" y="266">9,4</text><text class="e" x="1380" y="266">61</text>
<text class="e" x="1346" y="278">35,4</text><text class="e" x="1380" y="278">230</text>
<text class="e" x="1346" y="291">8,7</text><text class="e" x="1380" y="291">649</text>
</g>
</g>
</g>
</svg>
